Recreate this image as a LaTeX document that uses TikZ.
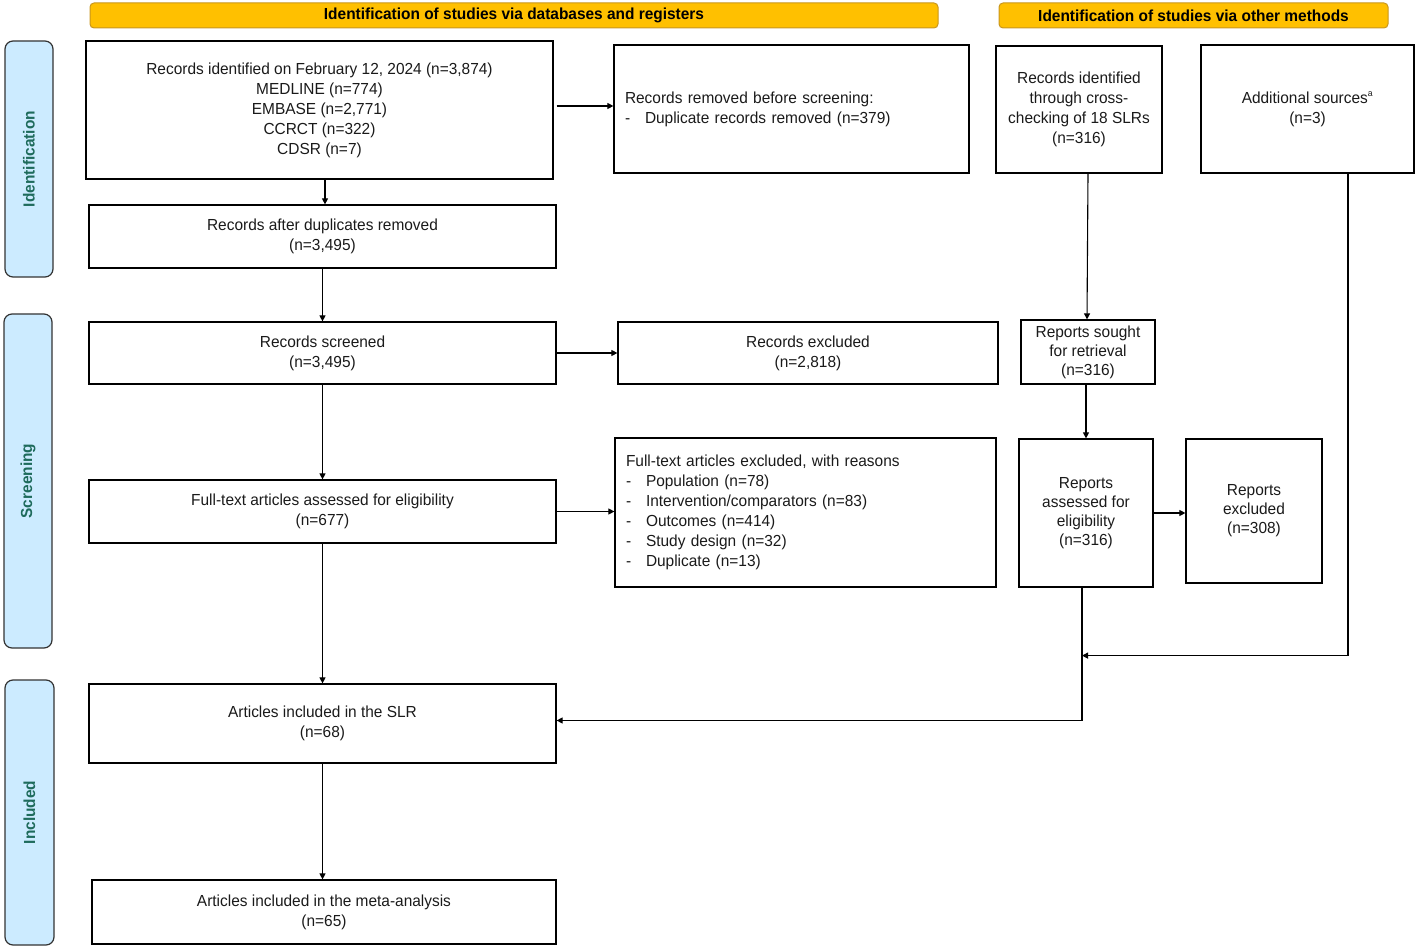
\documentclass[tikz,border=0pt]{standalone}
\usepackage{fontspec}
\setmainfont{Liberation Sans}[FakeStretch=0.965]
\usetikzlibrary{arrows.meta,calc}
\definecolor{hdrfill}{HTML}{FFC000}
\definecolor{hdrdraw}{HTML}{C8961E}
\definecolor{sidefill}{HTML}{CCEBFF}
\definecolor{sidetext}{HTML}{1E6B5C}
\definecolor{txt}{HTML}{1A1A1A}
\newcommand{\fs}{\fontsize{16}{20}\selectfont}
\newcommand{\li}{\makebox[20pt][l]{-}}
\begin{document}
\begin{tikzpicture}[x=1pt,y=-1pt,
  box/.style={draw=black,line width=1.2pt,inner sep=0pt,align=center,text=txt,font=\fs},
  lbox/.style={draw=black,line width=1.2pt,inner xsep=11pt,inner ysep=0pt,align=left,text=txt,font=\fs},
  hdr/.style={draw=hdrdraw,fill=hdrfill,line width=1pt,rounded corners=4pt,inner sep=0pt,font=\fs\bfseries,text=black},
  side/.style={draw=black!80,fill=sidefill,line width=1.2pt,rounded corners=8pt,inner sep=0pt},
  sidelbl/.style={inner sep=0pt,font=\fs\bfseries,text=sidetext,rotate=90},
  arr/.style={draw=black,line width=1.1pt,-{Triangle[length=6pt,width=6pt]}},
  ln/.style={draw=black,line width=1.1pt}]
\useasboundingbox (0,0) rectangle (1416,949);
% headers
\node[hdr,minimum width=848pt,minimum height=25pt] (h1) at (514,15.5) {Identification of studies via databases and registers};
\node[hdr,minimum width=389pt,minimum height=25pt] (h2) at (1193.5,15.5) {Identification of studies via other methods};
% side bars
\node[side,minimum width=48pt,minimum height=236pt] (s1) at (29,159) {};
\node[sidelbl] (s1t) at (s1.center) {Identification};
\node[side,minimum width=48pt,minimum height=334pt] (s2) at (28,481) {};
\node[sidelbl] (s2t) at (s2.center) {Screening};
\node[side,minimum width=49pt,minimum height=265pt] (s3) at (29.5,812.5) {};
\node[sidelbl] (s3t) at (s3.center) {Included};
% boxes
\node[box,minimum width=467pt,minimum height=138pt] (A) at (319.5,110) {Records identified on February 12, 2024 (n=3,874)\\MEDLINE (n=774)\\EMBASE (n=2,771)\\CCRCT (n=322)\\CDSR (n=7)};
\node[lbox,text width=333pt,minimum height=128pt] (B) at (791.5,109) {Records removed before screening:\\\li Duplicate records removed (n=379)};
\node[box,minimum width=166pt,minimum height=127pt] (C) at (1079,109.5) {Records identified\\through cross-\\checking of 18 SLRs\\(n=316)};
\node[box,minimum width=213pt,minimum height=128pt] (D) at (1307.5,109) {Additional sources\textsuperscript{\fontsize{9}{9}\selectfont a}\\(n=3)};
\node[box,minimum width=467pt,minimum height=63pt] (E) at (322.5,236.5) {Records after duplicates removed\\(n=3,495)};
\node[box,minimum width=467pt,minimum height=62pt] (F) at (322.5,353) {Records screened\\(n=3,495)};
\node[box,minimum width=380pt,minimum height=62pt] (G) at (808,353) {Records excluded\\(n=2,818)};
\node[box,minimum width=134pt,minimum height=64pt,font=\fontsize{16}{19}\selectfont] (H) at (1088,352) {Reports sought\\for retrieval\\(n=316)};
\node[box,minimum width=467pt,minimum height=63pt] (I) at (322.5,511.5) {Full-text articles assessed for eligibility\\(n=677)};
\node[lbox,text width=359pt,minimum height=149pt] (J) at (805.5,512.5) {Full-text articles excluded, with reasons\\\li Population (n=78)\\\li Intervention/comparators (n=83)\\\li Outcomes (n=414)\\\li Study design (n=32)\\\li Duplicate (n=13)};
\node[box,minimum width=134pt,minimum height=148pt,font=\fontsize{16}{19}\selectfont] (K) at (1086,513) {Reports\\assessed for\\eligibility\\(n=316)};
\node[box,minimum width=136pt,minimum height=144pt,font=\fontsize{16}{19}\selectfont] (L) at (1254,511) {Reports\\excluded\\(n=308)};
\node[box,minimum width=467pt,minimum height=79pt] (M) at (322.5,723.5) {Articles included in the SLR\\(n=68)};
\node[box,minimum width=464pt,minimum height=64pt] (N) at (324,912) {Articles included in the meta-analysis\\(n=65)};
% helper coordinates
\coordinate (a1) at ($(A.south)+(5.5,0)$);
\coordinate (a2) at ($(A.east)+(3,-4)$);
\coordinate (c1) at ($(C.south)+(9,0)$);
\coordinate (h1t) at ($(H.north)+(-1,0)$);
\coordinate (h2b) at ($(H.south)+(-2,0)$);
\coordinate (k1) at ($(K.south)+(-4,0)$);
\coordinate (j) at ($(K.south)+(-4,68)$);
\coordinate (m1) at ($(M.east)+(0,-3)$);
\coordinate (d1) at ($(D.south)+(40.5,0)$);
% connectors
\draw[arr] (a1) -- (a1 |- E.north);
\draw[arr] (a2) -- (a2 -| B.west);
\draw[arr] (E.south) -- (F.north);
\draw[arr] (F.east) -- (G.west);
\draw[arr] (F.south) -- (I.north);
\draw[arr] (I.east) -- (I.east -| J.west);
\draw[arr] (I.south) -- (M.north);
\draw[arr] (M.south) -- (M.south |- N.north);
\draw[arr] (c1) -- (h1t);
\draw[arr] (h2b) -- (h2b |- K.north);
\draw[arr] (K.east) -- (K.east -| L.west);
\draw[arr] (k1) |- (m1);
\draw[arr] (d1) |- (j);
\end{tikzpicture}
\end{document}
